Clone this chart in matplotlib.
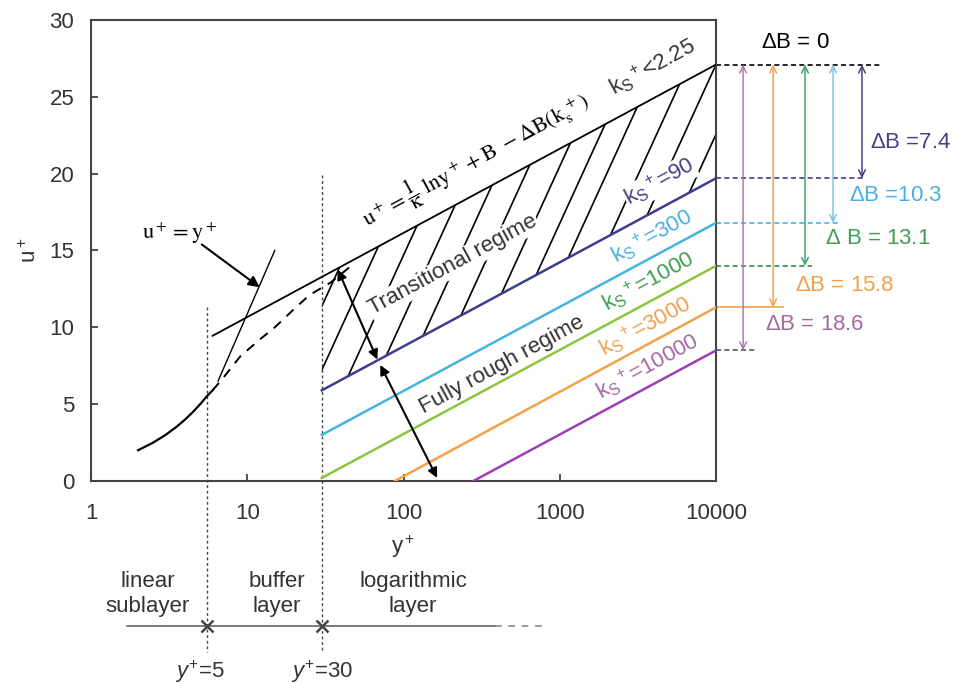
# -*- coding: utf-8 -*-
'''
Law of the wall with roughness shift: u+ vs y+ (log scale),
transitional / fully rough regimes and the Delta B offsets.
'''

import numpy as np
import matplotlib.pyplot as plt
from matplotlib.patches import Polygon

plt.rcParams['font.family'] = ['Liberation Sans', 'DejaVu Sans']
plt.rcParams['mathtext.fontset'] = 'custom'
plt.rcParams['mathtext.rm'] = 'Liberation Sans'
plt.rcParams['mathtext.it'] = 'Liberation Sans:italic'
plt.rcParams['mathtext.bf'] = 'Liberation Sans:bold'

# =============================================================================
# data
# =============================================================================
# smooth wall log law (two end points, straight on log axis)
loglaw_x = [6, 10000]
loglaw_u = [9.45, 27.1]

# viscous sublayer u+ = y+ (solid) and buffer blend (dashed)
visc_x = [2.0, 2.5, 3.0, 3.5, 4.0, 4.5, 5.0, 5.5, 6.0]
visc_u = [2.0, 2.5, 3.0, 3.5, 4.0, 4.5, 5.0, 5.5, 5.9]
buffer_x = [6.0, 7.0, 9.0, 12.0, 15.0, 20.0, 25.0, 34.0, 45.0]
buffer_u = [5.9, 6.7, 8.1, 9.2, 10.0, 11.2, 12.1, 12.9, 13.9]
linear_x = [6.5, 15]
linear_u = [6.5, 15]

# rough wall lines
ks_labels = ['90', '300', '1000', '3000', '10000']
delta_b = [7.4, 10.3, 13.1, 15.8, 18.6]
rough_x0 = [30, 30, 30, 88, 280]
rough_u0 = [5.9, 3.0, 0.2, 0.0, 0.0]
rough_x1 = [10000, 10000, 10000, 10000, 10000]
rough_u1 = [19.7, 16.8, 14.0, 11.3, 8.5]
line_cols = ['#3c3f8c', '#46b4e0', '#8cc63f', '#f4a24a', '#9b3fb5']
text_cols = ['#4a3d85', '#4ab0e0', '#3f9f4f', '#f0a050', '#a36aa0']

# hatch anchors on the log law line (y+)
hatch_x = [22, 39, 69, 122, 214, 368, 643, 1170, 1950, 3130, 5840, 10000,
           16000]

# Delta B arrows right of the axes
arrow_x = [85900, 56100, 37100, 23200, 14900]
level_end_x = [89900, 62200, 41100, 26800, 17800]

x_ticks = [1, 10, 100, 1000, 10000]
y_ticks = [0, 5, 10, 15, 20, 25, 30]

grey = '#333333'

# =============================================================================
fig = plt.figure(figsize=(9.56, 6.84), dpi=100)
ax = fig.add_axes([0.0952, 0.2968, 0.6538, 0.674])
ax.set_xscale('log')
ax.set_xlim(1, 10000)
ax.set_ylim(0, 30)
ax.set_xticks(x_ticks)
ax.set_xticklabels([str(t) for t in x_ticks])
ax.set_yticks(y_ticks)
ax.minorticks_off()
ax.tick_params(direction='in', length=5, width=1.2, labelsize=16,
               colors=grey)
ax.tick_params(axis='x', pad=16)
ax.tick_params(axis='y', pad=12)
for sp in ax.spines.values():
    sp.set_color('#444444')
    sp.set_linewidth(1.5)
ax.set_ylabel(r'u$^+$', fontsize=16, color=grey, labelpad=6)

# smooth wall curves
ax.plot(loglaw_x, loglaw_u, color='black', lw=1.3, zorder=3)
ax.plot(visc_x, visc_u, color='black', lw=1.6, zorder=3)
ax.plot(buffer_x, buffer_u, color='black', lw=1.4, ls=(0, (5, 4)), zorder=3)
ax.plot(linear_x, linear_u, color='black', lw=1.0, zorder=3)

# rough wall lines
for i in range(len(ks_labels)):
    ax.plot([rough_x0[i], rough_x1[i]], [rough_u0[i], rough_u1[i]],
            color=line_cols[i], lw=1.8, zorder=3)

# hatching of the transitional regime
lx = np.log10(loglaw_x)
u_top_30 = np.interp(np.log10(30), lx, loglaw_u)
region = Polygon([(30, u_top_30), (10000, loglaw_u[1]),
                  (rough_x1[0], rough_u1[0]), (rough_x0[0], rough_u0[0])],
                 closed=True, fill=False, edgecolor='none',
                 transform=ax.transData)
ax.add_patch(region)
t = np.array([-16.0, 4.0])
for hx in hatch_x:
    u0 = np.interp(np.log10(hx), lx, loglaw_u)
    hl, = ax.plot(10 ** (np.log10(hx) + 0.045 * t), u0 + t,
                  color='black', lw=1.2, zorder=1)
    hl.set_clip_path(region)

# vertical dotted limits y+=5 and y+=30, continued below the axis
ax.plot([5.5, 5.5], [11.3, -11.1], color='#444444', lw=1, ls=(0, (2, 2)),
        clip_on=False)
ax.plot([30, 30], [19.9, -11.1], color='#444444', lw=1, ls=(0, (2, 2)),
        clip_on=False)

# layer bar below the axis
ax.plot([1.7, 385], [-9.43, -9.43], color='#666666', lw=1.2, clip_on=False)
ax.plot([385, 805], [-9.43, -9.43], color='#888888', lw=1.2,
        ls=(0, (4, 4)), clip_on=False)
ax.plot([5.5, 30], [-9.43, -9.43], ls='none', marker='x', ms=9, mew=1.8,
        color='#444444', clip_on=False)

ax.text(100, -4.3, r'y$^+$', fontsize=16, color=grey, ha='center',
        va='center', clip_on=False)
ax.text(2.3, -7.35, 'linear\nsublayer', fontsize=16, color=grey,
        ha='center', va='center', linespacing=1.2)
ax.text(15.5, -7.35, 'buffer\nlayer', fontsize=16, color=grey,
        ha='center', va='center', linespacing=1.2)
ax.text(115, -7.35, 'logarithmic\nlayer', fontsize=16, color=grey,
        ha='center', va='center', linespacing=1.2)
ax.text(5.0, -12.4, r'$y^{+}$=5', fontsize=16, color=grey, ha='center',
        va='center')
ax.text(30, -12.4, r'$y^{+}$=30', fontsize=16, color=grey, ha='center',
        va='center')

# annotations inside
ax.text(3.7, 16.1, r'$\mathrm{u^+ = y^+}$', fontsize=16,
        math_fontfamily='stix', ha='center', va='center')
ax.annotate('', xy=(12.4, 12.5), xytext=(4.95, 15.5),
            arrowprops=dict(arrowstyle='-|>', color='black', lw=1.5,
                            mutation_scale=16))
ax.text(287, 20.9,
        r'$\mathrm{u^+ = \dfrac{1}{\kappa}\ ln y^+ + B\ -\Delta B(k_s^{\ +})}$',
        fontsize=16, math_fontfamily='stix', rotation=28.5,
        rotation_mode='anchor', ha='center', va='center')
ax.text(3950, 26.9, r'k$_\mathrm{S}$$^+$<2.25', fontsize=16, color=grey,
        rotation=28.5, rotation_mode='anchor', ha='center', va='center')
ax.text(207, 14.05, 'Transitional regime', fontsize=16, color=grey,
        rotation=28.5, rotation_mode='anchor', ha='center', va='center',
        zorder=2, bbox=dict(fc='white', ec='none', pad=1))
ax.text(427, 7.55, 'Fully rough regime', fontsize=16, color=grey,
        rotation=28.5, rotation_mode='anchor', ha='center', va='center',
        zorder=2)
ax.annotate('', xy=(68, 7.9), xytext=(38, 13.75),
            arrowprops=dict(arrowstyle='<|-|>', color='black', lw=1.5,
                            mutation_scale=14, shrinkA=0, shrinkB=0))
ax.annotate('', xy=(164, 0.2), xytext=(71, 7.55),
            arrowprops=dict(arrowstyle='<|-|>', color='black', lw=1.5,
                            mutation_scale=14, shrinkA=0, shrinkB=0))

ks_pos_x = [4380, 3890, 3670, 3510, 3670]
ks_pos_u = [19.45, 15.9, 12.95, 10.0, 7.4]
for i in range(len(ks_labels)):
    ax.text(ks_pos_x[i], ks_pos_u[i],
            r'k$_\mathrm{S}$$^+$=' + ks_labels[i], fontsize=16,
            color=text_cols[i], rotation=28.5, rotation_mode='anchor',
            ha='center', va='center', zorder=2,
            bbox=dict(fc='white', ec='none', pad=0.5) if i == 0 else None)

# Delta B scale to the right
ax.plot([10000, 112000], [loglaw_u[1], loglaw_u[1]], color='black', lw=1.2,
        ls=(0, (3, 2)), clip_on=False)
ax.text(32000, 28.55, r'$\Delta$B = 0', fontsize=16, color='black',
        ha='center', va='center')
lvl_styles = [(0, (3, 2)), (0, (3, 2)), (0, (3, 2)), '-', (0, (3, 2))]
lvl_cols = ['#3c3f8c', '#46b4e0', '#2f8f4f', '#f4a24a', '#555555']
arrow_cols = ['#4a3d85', '#7cc4ea', '#3aa866', '#f4a24a', '#b07ab0']
for i in range(len(delta_b)):
    lvl = loglaw_u[1] - delta_b[i]
    ax.plot([10000, level_end_x[i]], [lvl, lvl], color=lvl_cols[i], lw=1.2,
            ls=lvl_styles[i], clip_on=False)
    ax.annotate('', xy=(arrow_x[i], lvl), xytext=(arrow_x[i], loglaw_u[1]),
                arrowprops=dict(arrowstyle='<->', color=arrow_cols[i], lw=1.1,
                                mutation_scale=12, shrinkA=0, shrinkB=0),
                annotation_clip=False)

db_pos_x = [177000, 140000, 109000, 67000, 43000]
db_pos_u = [22.0, 18.55, 15.8, 12.7, 10.2]
db_txt = [r'$\Delta$B =7.4', r'$\Delta$B =10.3', r'$\Delta$ B = 13.1',
          r'$\Delta$B = 15.8', r'$\Delta$B = 18.6']
for i in range(len(delta_b)):
    ax.text(db_pos_x[i], db_pos_u[i], db_txt[i], fontsize=16,
            color=text_cols[i], ha='center', va='center')

fig.savefig('out.png', dpi=100)
